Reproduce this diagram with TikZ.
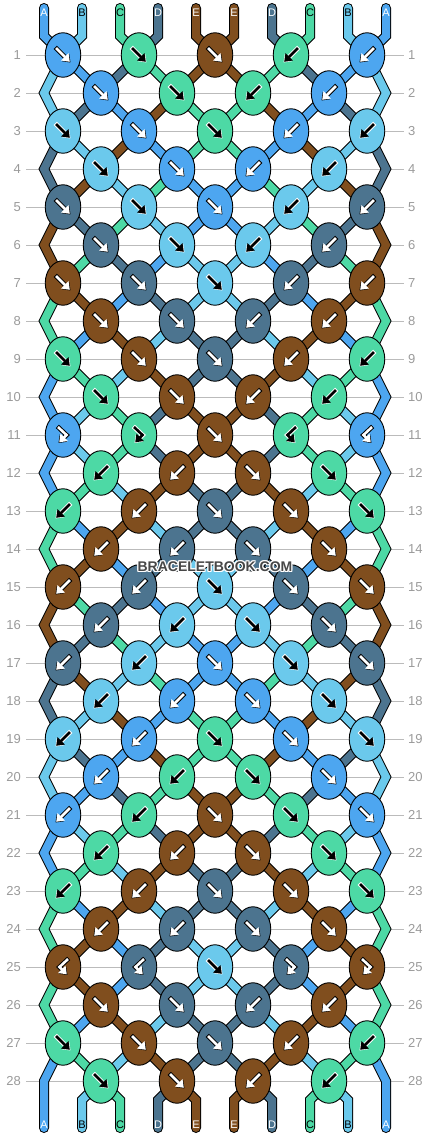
\documentclass[tikz,border=0pt]{standalone}
\usepackage{fontspec}
\setmainfont{Liberation Sans}
\usetikzlibrary{shapes.geometric,arrows.meta}

\definecolor{sA}{HTML}{4DA6F0}
\definecolor{sB}{HTML}{6BC9EC}
\definecolor{sC}{HTML}{4DD9A5}
\definecolor{sD}{HTML}{4C748F}
\definecolor{sE}{HTML}{804E1E}
\definecolor{rowgray}{HTML}{BBBBBB}
\definecolor{numgray}{HTML}{9A9A9A}
\definecolor{markgray}{HTML}{474747}
% arrow fill and rim on each knot colour
\colorlet{fA}{white}\colorlet{oA}{black}
\colorlet{fB}{black}\colorlet{oB}{white}
\colorlet{fC}{black}\colorlet{oC}{white}
\colorlet{fD}{white}\colorlet{oD}{black}
\colorlet{fE}{white}\colorlet{oE}{black}

\tikzset{
  thread/.style={draw=black, line width=1pt, double=s#1, double distance=8pt},
  threadend/.style={thread=#1, line cap=round},
  knot/.style={ellipse, draw=black, line width=0.9pt, fill=s#1,
    minimum width=35.5pt, minimum height=44.5pt, inner sep=0pt},
  rowline/.style={rowgray, line width=1pt},
  rownum/.style={numgray, font=\fontsize{13}{13}\selectfont, inner sep=0pt},
  letter/.style={font=\fontsize{11}{11}\selectfont, inner sep=0pt},
  arrowrim/.style={line width=4.6pt, shorten <=-0.9pt,
    -{Triangle[length=7pt,width=10pt,line width=1.8pt]}},
  arrowbody/.style={line width=2.6pt, shorten >=1pt,
    -{Triangle[length=7pt,width=10pt]}},
}

% knot kinds
\def\kf{f}\def\kb{b}\def\kfb{fb}\def\kbf{bf}
\def\setarrow#1#2#3#4#5#6{\def\ax{#1}\def\ay{#2}\def\bx{#3}\def\by{#4}\def\cx{#5}\def\cy{#6}}

\begin{document}
\begin{tikzpicture}[x=1pt,y=-1pt]
\useasboundingbox (0,0) rectangle (430,1136);

% row lines and numbers
\foreach \r in {1,...,28}{
  \pgfmathsetmacro\y{55+38*(\r-1)}
  \draw[rowline] (26,\y) -- (404,\y);
  \node[rownum, anchor=east] (numL\r) at (21,\y) {\r};
  \node[rownum, anchor=west] (numR\r) at (408,\y) {\r};
}

% threads coming in at the top
\foreach \c [count=\p] in {A,B,C,D,E,E,D,C,B,A}{
  \expandafter\xdef\csname pos\p\endcsname{\c}
  \pgfmathsetmacro\x{44+38*(\p-1)}
  \pgfmathsetmacro\xk{mod(\p,2)==1 ? \x+19 : \x-19}
  \draw[threadend=\c] (\x,8) -- (\x,36) -- (\xk,55);
  \node[letter, text=f\c] (top\p) at (\x,12.5) {\c};
}

% the knots, row by row
\foreach \kinds [count=\r] in {
  {f,f,f,b,b},{f,f,b,b},{f,f,f,b,b},{f,f,b,b},{f,f,f,b,b},
  {f,f,b,b},{f,f,f,b,b},{f,f,b,b},{f,f,f,b,b},{f,f,b,b},
  {fb,fb,f,bf,bf},{b,b,f,f},{b,b,f,f,f},{b,b,f,f},{b,b,f,f,f},
  {b,b,f,f},{b,b,f,f,f},{b,b,f,f},{b,b,f,f,f},{b,b,f,f},
  {b,b,f,f,f},{b,b,f,f},{b,b,f,f,f},{b,b,f,f},{bf,bf,f,fb,fb},
  {f,f,b,b},{f,f,f,b,b},{f,f,b,b}}{
  \pgfmathsetmacro\y{55+38*(\r-1)}
  \pgfmathsetmacro\yn{\y+38}
  \pgfmathtruncatemacro\odd{mod(\r,2)}
  \foreach \t [count=\k] in \kinds {
    \pgfmathtruncatemacro\p{\odd==1 ? 2*\k-1 : 2*\k}
    \pgfmathtruncatemacro\q{\p+1}
    \pgfmathsetmacro\x{25+38*\p}
    \edef\lcol{\csname pos\p\endcsname}
    \edef\rcol{\csname pos\q\endcsname}
    \edef\kind{\t}
    \ifx\kind\kf \let\kcol\lcol \def\swap{1}\setarrow{-7}{-7}{0}{0}{7.5}{7.5}\fi
    \ifx\kind\kb \let\kcol\rcol \def\swap{1}\setarrow{7}{-7}{0}{0}{-7.5}{7.5}\fi
    \ifx\kind\kfb \let\kcol\lcol \def\swap{0}\setarrow{-5}{-8}{3.5}{0}{-4.5}{8}\fi
    \ifx\kind\kbf \let\kcol\rcol \def\swap{0}\setarrow{5}{-8}{-3.5}{0}{4.5}{8}\fi
    \if1\swap
      \expandafter\xdef\csname pos\p\endcsname{\rcol}
      \expandafter\xdef\csname pos\q\endcsname{\lcol}
    \fi
    \edef\nlcol{\csname pos\p\endcsname}
    \edef\nrcol{\csname pos\q\endcsname}
    % left thread out of the knot
    \ifnum\p=1
      \ifnum\r<27
        \draw[thread=\nlcol] (\x,\y) -- (44,\yn) -- (63,\y+76);
      \else
        \draw[threadend=\nlcol] (\x,\y) -- (44,\yn) -- (44,1128);
        \node[letter, text=f\nlcol] (bot\p) at (44,1124.5) {\nlcol};
      \fi
    \else
      \ifnum\r=28
        \draw[threadend=\nlcol] (\x,\y) -- (\x-19,1100) -- (\x-19,1128);
        \node[letter, text=f\nlcol] (bot\p) at (\x-19,1124.5) {\nlcol};
      \else
        \draw[thread=\nlcol] (\x,\y) -- (\x-38,\yn);
      \fi
    \fi
    % right thread out of the knot
    \ifnum\q=10
      \ifnum\r<27
        \draw[thread=\nrcol] (\x,\y) -- (386,\yn) -- (367,\y+76);
      \else
        \draw[threadend=\nrcol] (\x,\y) -- (386,\yn) -- (386,1128);
        \node[letter, text=f\nrcol] (bot\q) at (386,1124.5) {\nrcol};
      \fi
    \else
      \ifnum\r=28
        \draw[threadend=\nrcol] (\x,\y) -- (\x+19,1100) -- (\x+19,1128);
        \node[letter, text=f\nrcol] (bot\q) at (\x+19,1124.5) {\nrcol};
      \else
        \draw[thread=\nrcol] (\x,\y) -- (\x+38,\yn);
      \fi
    \fi
    \node[knot=\kcol] (k\r-\k) at (\x,\y) {};
    \draw[arrowrim, draw=o\kcol] (\x+\ax,\y+\ay) -- (\x+\bx,\y+\by) -- (\x+\cx,\y+\cy);
    \draw[arrowbody, draw=f\kcol] (\x+\ax,\y+\ay) -- (\x+\bx,\y+\by) -- (\x+\cx,\y+\cy);
  }
}

% watermark
\foreach \dx/\dy in {-1/0,1/0,0/-1,0/1,-1/-1,1/1,-1/1,1/-1}
  \node[white, font=\fontsize{14}{14}\bfseries\selectfont] at (215+\dx,567+\dy) {BRACELETBOOK.COM};
\node[markgray, font=\fontsize{14}{14}\bfseries\selectfont] (mark) at (215,567) {BRACELETBOOK.COM};
\end{tikzpicture}
\end{document}
